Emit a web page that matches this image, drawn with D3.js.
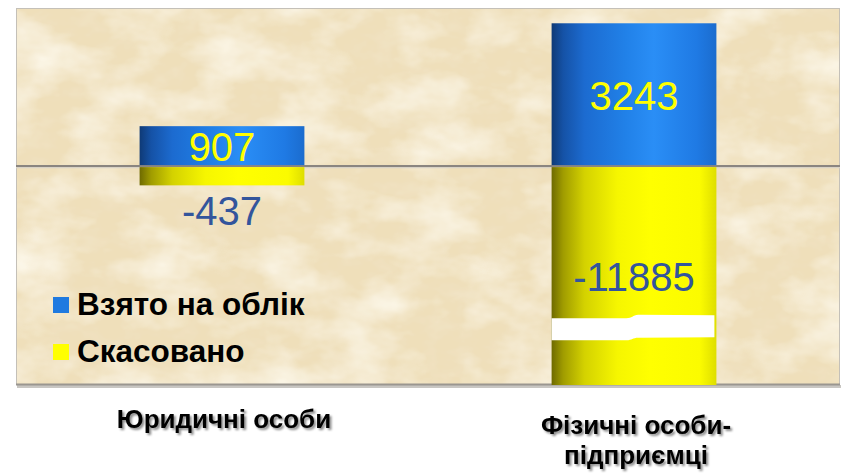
<!DOCTYPE html>
<html><head><meta charset="utf-8">
<script src="https://cdn.jsdelivr.net/npm/d3@7"></script>
<style>
html,body{margin:0;padding:0;background:#fff;}
svg{display:block;}
</style>
</head><body>
<script>
// ---- data ----
const categories = ["Юридичні особи", "Фізичні особи-\nпідприємці"];
const seriesNames = ["Взято на облік", "Скасовано"];
const registered = [907, 3243];
const cancelled = [-437, -11885];
const yDomain = [-4970, 3590];
const breakValue = -3660;

const W = 847, H = 476;
const plot = {left: 16, right: 840, top: 8, bottom: 385};

const svg = d3.select("body").append("svg").attr("width", W).attr("height", H);
const defs = svg.append("defs");

// parchment texture
const f = defs.append("filter").attr("id", "parch").attr("x", 0).attr("y", 0).attr("width", "100%").attr("height", "100%");
f.append("feTurbulence").attr("type", "fractalNoise").attr("baseFrequency", "0.015 0.025").attr("numOctaves", 4).attr("seed", 3).attr("result", "n1");
f.append("feColorMatrix").attr("in", "n1").attr("type", "matrix")
  .attr("values", "0 0 0 0 0.975  0 0 0 0 0.935  0 0 0 0 0.82  1.9 0 0 0 -0.8").attr("result", "light");
f.append("feTurbulence").attr("type", "fractalNoise").attr("baseFrequency", "0.04 0.06").attr("numOctaves", 3).attr("seed", 11).attr("result", "n2");
f.append("feColorMatrix").attr("in", "n2").attr("type", "matrix")
  .attr("values", "0 0 0 0 0.88  0 0 0 0 0.77  0 0 0 0 0.56  1.8 0 0 0 -0.8").attr("result", "dark");
f.append("feMerge").call(m => {
  m.append("feMergeNode").attr("in", "SourceGraphic");
  m.append("feMergeNode").attr("in", "dark");
  m.append("feMergeNode").attr("in", "light");
});

const gBlue = defs.append("linearGradient").attr("id", "gBlue").attr("x1", 0).attr("x2", 1).attr("y1", 0).attr("y2", 0);
[[0, "#0f3a76"], [0.07, "#1552a6"], [0.2, "#1c6bd0"], [0.45, "#2181e8"], [0.62, "#2a8ef6"], [0.88, "#1f7ae4"], [1, "#1b6cce"]]
  .forEach(([o, c]) => gBlue.append("stop").attr("offset", o).attr("stop-color", c));
const gYel = defs.append("linearGradient").attr("id", "gYel").attr("x1", 0).attr("x2", 1).attr("y1", 0).attr("y2", 0);
[[0, "#6e6a00"], [0.07, "#a09c00"], [0.2, "#d4d200"], [0.4, "#f6f600"], [0.6, "#ffff00"], [0.9, "#fbfb00"], [1, "#dede00"]]
  .forEach(([o, c]) => gYel.append("stop").attr("offset", o).attr("stop-color", c));

const shadow = defs.append("filter").attr("id", "tshadow").attr("x", "-10%").attr("y", "-20%").attr("width", "130%").attr("height", "160%");
shadow.append("feDropShadow").attr("dx", 2).attr("dy", 2).attr("stdDeviation", 1.2).attr("flood-color", "#000").attr("flood-opacity", 0.45);

const clip = defs.append("clipPath").attr("id", "plotClip");
clip.append("rect").attr("x", plot.left).attr("y", plot.top).attr("width", plot.right - plot.left).attr("height", plot.bottom - plot.top);

// plot background
svg.append("rect").attr("x", plot.left + 1).attr("y", plot.bottom).attr("width", plot.right - plot.left).attr("height", 3).attr("fill", "#c8c6c2");
svg.append("rect").attr("x", plot.left).attr("y", plot.top).attr("width", plot.right - plot.left).attr("height", plot.bottom - plot.top)
  .attr("fill", "#efdfba").attr("filter", "url(#parch)");
svg.append("rect").attr("x", plot.left + 0.5).attr("y", plot.top + 0.5).attr("width", plot.right - plot.left - 1).attr("height", plot.bottom - plot.top - 1)
  .attr("fill", "none").attr("stroke", "#c4c0b8").attr("stroke-width", 1);
svg.append("line").attr("x1", plot.left).attr("x2", plot.right).attr("y1", plot.bottom - 0.5).attr("y2", plot.bottom - 0.5).attr("stroke", "#9a9690").attr("stroke-width", 2);

// scales
const x = d3.scaleBand().domain(categories).range([plot.left, plot.right]).paddingInner(0.6).paddingOuter(0.3);
const y = d3.scaleLinear().domain(yDomain).range([plot.bottom, plot.top]);

// zero line
const y0 = y(0);
svg.append("line").attr("x1", plot.left).attr("x2", plot.right).attr("y1", y0 + 1.5).attr("y2", y0 + 1.5).attr("stroke", "#d8d2c6").attr("stroke-width", 1.2);
svg.append("line").attr("x1", plot.left).attr("x2", plot.right).attr("y1", y0).attr("y2", y0).attr("stroke", "#8a8580").attr("stroke-width", 2);

const gBars = svg.append("g").attr("clip-path", "url(#plotClip)");
gBars.selectAll("rect.pos").data(categories).join("rect").attr("class", "pos")
  .attr("x", d => x(d)).attr("width", x.bandwidth())
  .attr("y", (d, i) => y(registered[i])).attr("height", (d, i) => y(0) - 1 - y(registered[i]))
  .attr("fill", "url(#gBlue)");
gBars.selectAll("rect.neg").data(categories).join("rect").attr("class", "neg")
  .attr("x", d => x(d)).attr("width", x.bandwidth())
  .attr("y", y(0) + 1).attr("height", (d, i) => Math.min(y(cancelled[i]), plot.bottom) - y(0) - 1)
  .attr("fill", "url(#gYel)");

// axis break on bars that exceed the domain
categories.forEach((c, i) => {
  if (cancelled[i] < yDomain[0]) {
    const x0 = x(c), bw = x.bandwidth(), yb = y(breakValue);
    const xl = x0, xr = x0 + bw - 2, xm = x0 + bw * 0.49;
    const p = d3.path();
    p.moveTo(xl, yb - 9);
    p.lineTo(xm - 6, yb - 9);
    p.bezierCurveTo(xm, yb - 9, xm, yb - 12, xm + 6, yb - 12.5);
    p.lineTo(xr, yb - 12);
    p.lineTo(xr, yb + 10);
    p.lineTo(xm + 6, yb + 10.5);
    p.bezierCurveTo(xm, yb + 10.5, xm, yb + 13, xm - 6, yb + 13);
    p.lineTo(xl, yb + 13);
    p.closePath();
    gBars.append("path").attr("d", p.toString()).attr("fill", "#ffffff");
  }
});

// value labels
const vfont = "'Liberation Sans', Arial, sans-serif";
categories.forEach((c, i) => {
  const cx = x(c) + x.bandwidth() / 2;
  svg.append("text").attr("x", cx).attr("y", (y(registered[i]) + y(0)) / 2 + 15)
    .attr("text-anchor", "middle").attr("font-family", vfont).attr("font-size", 40).attr("fill", "#ffff00")
    .text(registered[i]);
  const inside = cancelled[i] < yDomain[0];
  const ly = inside ? y(-2840) : y(cancelled[i]) + 40;
  svg.append("text").attr("x", cx).attr("y", ly)
    .attr("text-anchor", "middle").attr("font-family", vfont).attr("font-size", 40).attr("fill", "#33559c")
    .text(cancelled[i]);
});

// category labels
categories.forEach((c, i) => {
  const lines = c.split("\n");
  const cx = x(c) + x.bandwidth() / 2 + 2;
  lines.forEach((ln, j) => {
    svg.append("text").attr("text-anchor", "middle").attr("font-family", vfont).attr("font-weight", "bold")
      .attr("font-size", 26).attr("fill", "#000").attr("filter", "url(#tshadow)")
      .attr("x", cx).attr("y", (lines.length === 1 ? 428 : 434) + j * 30).text(ln);
  });
});

// legend
const legColors = ["#1f7ae0", "#ffff00"];
const leg = svg.append("g");
seriesNames.forEach((s, i) => {
  leg.append("rect").attr("x", 53).attr("y", 297 + i * 47).attr("width", 16).attr("height", 16).attr("fill", legColors[i]);
  leg.append("text").attr("x", 77).attr("y", 315 + i * 47).attr("font-family", vfont).attr("font-weight", "bold")
    .attr("font-size", 31.5).attr("fill", "#000").text(s);
});
</script>
</body></html>
